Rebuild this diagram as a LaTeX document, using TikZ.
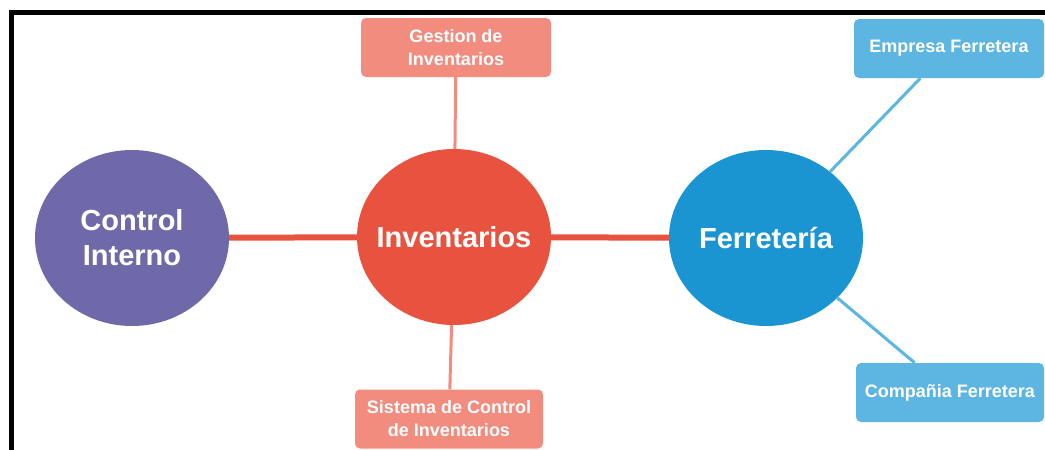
\documentclass[tikz,border=0pt]{standalone}
\usepackage{fontspec}
\setmainfont{Liberation Sans}
\usepackage{tikz}
\usetikzlibrary{shapes.geometric}
\definecolor{ciPurple}{HTML}{6F69A9}
\definecolor{invRed}{HTML}{E8533F}
\definecolor{ferBlue}{HTML}{1A95D2}
\definecolor{boxSalmon}{HTML}{F28C7F}
\definecolor{boxBlue}{HTML}{5CB6E1}
\tikzstyle{topic}=[ellipse, minimum width=194pt, minimum height=176pt, inner sep=0pt]
\tikzstyle{topic_label}=[text=white, align=center, inner sep=0pt,
    font=\fontsize{29}{35}\selectfont\bfseries]
\tikzstyle{sub_box}=[rectangle, rounded corners=5pt, minimum width=190pt, minimum height=59pt,
    inner sep=0pt, text=white, align=center, font=\fontsize{18}{23}\selectfont\bfseries]

\begin{document}
\begin{tikzpicture}[x=1pt, y=-1pt]
          \useasboundingbox[fill=white] (0,0) rectangle (1045,450);
          \draw[line width=5pt] (11,452) -- (11,12.5) -- (1047,12.5);
          \node[topic, fill=ciPurple, label={[topic_label]center:Control\\Interno}] (ctrl) at (132,238){};
          \node[topic, fill=invRed, label={[topic_label]center:Inventarios}] (inv) at (454,237){};
          \node[topic, fill=ferBlue, label={[topic_label]center:Ferretería}] (ferr) at (766,238){};
          \draw[invRed, line width=6pt](ctrl) -- (inv);
          \draw[invRed, line width=6pt](inv) -- (ferr);
          \node[sub_box, fill=boxSalmon] (gest) at (456,47.5){Gestion de\\Inventarios};
          \node[sub_box, fill=boxSalmon, minimum width=188pt] (sist) at (449,419){Sistema de Control\\de Inventarios};
          \draw[boxSalmon, line width=3pt](inv) -- (gest);
          \draw[boxSalmon, line width=3pt](inv) -- (sist);
          \node[sub_box, fill=boxBlue] (empr) at (949,48.5){Empresa Ferretera};
          \node[sub_box, fill=boxBlue, minimum width=188pt] (comp) at (950,392.5){Compañia Ferretera};
          \draw[boxBlue, line width=3pt](ferr) -- (empr);
          \draw[boxBlue, line width=3pt](ferr) -- (comp);
        \end{tikzpicture}
\end{document}
